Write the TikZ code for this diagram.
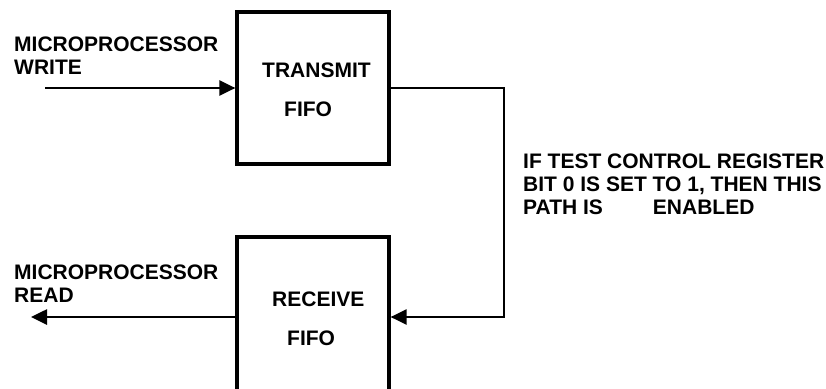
\documentclass[tikz,border=0pt]{standalone}
\usepackage{fontspec}
\setmainfont{Liberation Sans}
\usetikzlibrary{arrows.meta,positioning}

\begin{document}
\begin{tikzpicture}[x=1pt,y=-1pt,
  fifobox/.style={draw, line width=3.2pt, minimum width=152pt, inner sep=0pt},
  lbl/.style={inner sep=0pt, font=\fontsize{21}{23}\selectfont\bfseries},
  flow/.style={line width=2.6pt, -{Triangle[length=16pt,width=15pt]}},
  loopline/.style={line width=2.2pt, -{Triangle[length=16pt,width=15pt]}}]
\useasboundingbox (0,0) rectangle (826,388);
\clip (0,0) rectangle (826,388);
% FIFO blocks
\node[fifobox, minimum height=152pt] (tx) at (313,88) {};
\node[fifobox, minimum height=160pt] (rx) at (313,317) {};
\node[lbl, anchor=base west] (txa) at (262,77) {TRANSMIT};
\node[lbl, anchor=base west] (txb) at (284,116) {FIFO};
\node[lbl, anchor=base west] (rxa) at (272,306) {RECEIVE};
\node[lbl, anchor=base west] (rxb) at (287,345) {FIFO};
% Microprocessor side
\node[lbl, anchor=north west, align=left] (wrlbl) at (14,37) {MICROPROCESSOR\\WRITE};
\node[lbl, anchor=north west, align=left] (rdlbl) at (14,265) {MICROPROCESSOR\\READ};
\coordinate (win) at (45,88);
\coordinate (rdout) at (31,317);
\draw[flow] (win) -- (tx.west);
\draw[flow] (rx.west) -- (rdout);
% Test loop path
\coordinate (turn) at (504,317);
\draw[loopline] (tx.east) -| (turn) -- (rx.east);
\node[lbl, anchor=north west, align=left] (note) at (523,154)
  {IF TEST CONTROL REGISTER\\BIT 0 IS SET TO 1, THEN THIS\\PATH IS\hspace{50pt}ENABLED};
\end{tikzpicture}
\end{document}
